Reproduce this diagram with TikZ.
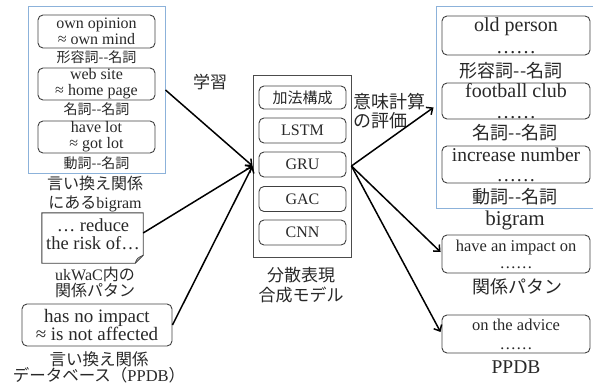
\documentclass[tikz,border=0pt]{standalone}
\usepackage{fontspec}
\setmainfont{Liberation Serif}
\newfontfamily\ja{Noto Sans CJK JP}
\usetikzlibrary{arrows.meta,calc}
\definecolor{frameblue}{RGB}{140,178,218}
\definecolor{ink}{RGB}{40,40,40}
\newcommand\fs[2]{\fontsize{#1}{#2}\selectfont}
\begin{document}
\begin{tikzpicture}[x=1pt,y=-1pt,
  txt/.style={text=ink, inner sep=0pt, align=center},
  rbox/.style={draw=black!75, line width=0.9pt, rounded corners=5pt, text=ink, inner sep=0pt, align=center},
  sbox/.style={draw=black!70, line width=0.9pt, inner sep=0pt},
  bluebox/.style={draw=frameblue, line width=1pt, inner sep=0pt},
  arr/.style={line width=1.5pt, -{Straight Barb[length=5pt,width=9pt]}}]
\useasboundingbox (0,0) rectangle (593,385);

% ---------- left column ----------
\node[bluebox, minimum width=137pt, minimum height=166pt] (L) at (96.5,90) {};
\node[rbox, minimum width=117pt, minimum height=33pt, font=\fs{16}{16}] (L1) at (96.5,31.5) {own opinion\\≈ own mind};
\node[txt, font=\ja\fs{14}{18}] (l1) at (96.5,57) {形容詞-{}-名詞};
\node[rbox, minimum width=117pt, minimum height=32pt, font=\fs{16}{16}] (L2) at (96.5,84) {web site\\≈ home page};
\node[txt, font=\ja\fs{14}{18}] (l2) at (96.5,109) {名詞-{}-名詞};
\node[rbox, minimum width=117pt, minimum height=32pt, font=\fs{16}{16}] (L3) at (96.5,137) {have lot\\≈ got lot};
\node[txt, font=\ja\fs{14}{18}] (l3) at (96.5,163) {動詞-{}-名詞};
\node[txt, font=\fs{16}{19}] (lcap) at (95,193.5) {\ja 言い換え関係\\{\ja にある}bigram};

% note with folded corner
\node[minimum width=101pt, minimum height=50pt, inner sep=0pt] (N) at (92.5,238) {};
\draw[draw=black!75, line width=0.9pt, fill=white]
  (N.north west) -- (N.north east) -- ($(N.south east)+(0,-8)$) -- ($(N.south east)+(-8,0)$) -- (N.south west) -- cycle;
\draw[draw=black!75, line width=0.8pt]
  ($(N.south east)+(-8,0)$) .. controls ($(N.south east)+(-6,-5)$) .. ($(N.south east)+(0,-8)$);
\node[txt, font=\fs{18.5}{18}] at (93,234) {… reduce\\the risk of…};
\node[txt, font=\fs{16}{16}] (ncap) at (95,282.5) {ukWaC{\ja 内の}\\{\ja 関係パタン}};

\node[rbox, minimum width=150pt, minimum height=42pt, font=\fs{19}{18}] (P) at (97,325) {has no impact\\≈ is not affected};
\node[txt, font=\fs{16.5}{16}] (pcap) at (99,367) {\ja 言い換え関係\\{\ja データベース（}PPDB{\ja ）}};

% ---------- middle ----------
\node[sbox, minimum width=98pt, minimum height=182pt] (M) at (302,166) {};
\node[rbox, minimum width=87pt, minimum height=23pt, font=\ja\fs{15}{15}] (B1) at (302.5,97.5) {加法構成};
\node[rbox, minimum width=87pt, minimum height=25pt, font=\fs{16}{16}] (B2) at (302.5,130.5) {LSTM};
\node[rbox, minimum width=87pt, minimum height=25pt, font=\fs{16}{16}] (B3) at (302.5,164.5) {GRU};
\node[rbox, minimum width=87pt, minimum height=25pt, font=\fs{16}{16}] (B4) at (302.5,199) {GAC};
\node[rbox, minimum width=87pt, minimum height=25pt, font=\fs{16}{16}] (B5) at (302.5,232.5) {CNN};
\node[txt, font=\ja\fs{17}{20}] (mcap) at (301,285) {分散表現\\合成モデル};
\node[txt, font=\ja\fs{17}{20}] (learn) at (210,82) {学習};
\node[txt, font=\ja\fs{18}{19}, align=left, anchor=west] (eval) at (353,111.5) {意味計算\\の評価};

% ---------- right column ----------
\node[bluebox, minimum width=158pt, minimum height=201pt] (R) at (515,107.5) {};
\node[rbox, minimum width=148pt, minimum height=39pt, font=\fs{20}{22}] (R1) at (516,35.5) {old person\\……};
\node[txt, font=\ja\fs{18}{20}] (r1) at (511,71) {形容詞-{}-名詞};
\node[rbox, minimum width=148pt, minimum height=36pt, font=\fs{20}{21}] (R2) at (516,101) {football club\\……};
\node[txt, font=\ja\fs{18}{20}] (r2) at (515,133) {名詞-{}-名詞};
\node[rbox, minimum width=148pt, minimum height=37pt, font=\fs{19.5}{20}] (R3) at (516,164.5) {increase number\\……};
\node[txt, font=\ja\fs{18}{20}] (r3) at (515,197) {動詞-{}-名詞};
\node[txt, font=\fs{21}{21}] (rcap) at (515,220) {bigram};
\node[rbox, minimum width=148pt, minimum height=38pt, font=\fs{16.5}{17}] (R4) at (516,254) {have an impact on\\……};
\node[txt, font=\ja\fs{18}{18}] (r4) at (517,287) {関係パタン};
\node[rbox, minimum width=148pt, minimum height=38pt, font=\fs{16.5}{19}] (R5) at (516,334) {on the advice\\……};
\node[txt, font=\fs{19.5}{20}] (r5) at (516,367) {PPDB};

% ---------- arrows ----------
\draw[arr] (L.east) -- (M.west);
\draw[arr] ($(N.north east)!0.4!(N.south east)$) -- (M.west);
\draw[arr] (P.east) -- (M.west);
\draw[arr] (M.east) -- ($(R.west)+(-2,0)$);
\draw[arr] (M.east) -- ($(R4.west)+(-1,-2)$);
\draw[arr] (M.east) -- ($(R5.west)+(-1,-2)$);
\end{tikzpicture}
\end{document}
